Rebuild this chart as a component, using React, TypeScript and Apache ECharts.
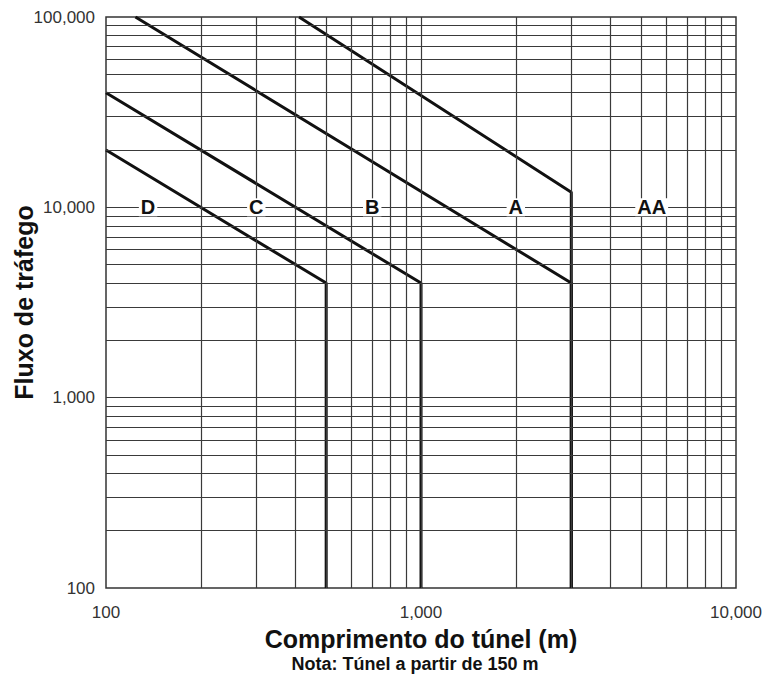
import React, { useEffect, useRef } from "react";
import * as echarts from "echarts";

// Curves (x: tunnel length in m, y: traffic flow)
const curveD: [number, number][] = [[100, 20000], [500, 4000], [500, 100]];
const curveC: [number, number][] = [[100, 40000], [1000, 4000], [1000, 100]];
const curveB: [number, number][] = [[124, 100000], [3000, 4000], [3000, 100]];
const curveA: [number, number][] = [[410, 100000], [3000, 12000], [3000, 100]];

// Zone labels
const zoneNames = ["D", "C", "B", "A", "AA"];
const zoneX = [136, 300, 700, 2000, 5400];
const zoneY = 10000;

// Grid lines of the log paper
const xGridValues = [200, 300, 400, 500, 600, 700, 800, 900, 1000, 2000, 3000, 4000, 5000, 6000, 7000, 8000, 9000];
const yGridValues = [
  200, 300, 400, 500, 600, 700, 800, 900, 1000,
  2000, 3000, 4000, 5000, 6000, 7000, 8000, 9000, 10000,
  20000, 30000, 40000, 50000, 60000, 70000, 80000, 90000,
];

const xTitle = "Comprimento do túnel (m)";
const yTitle = "Fluxo de tráfego";
const note = "Nota: Túnel a partir de 150 m";

const FONT = "'Liberation Sans', Arial, Helvetica, sans-serif";

const fmt = (v: number) => Math.round(v).toLocaleString("en-US");

export default function App() {
  const ref = useRef<HTMLDivElement>(null);
  useEffect(() => {
    if (!ref.current) return;
    const chart = echarts.init(ref.current, undefined, { renderer: "svg" });
    const curveStyle = { color: "#111", width: 3 };
    const mkCurve = (name: string, data: [number, number][]) => ({
      name,
      type: "line",
      data,
      symbol: "none",
      lineStyle: curveStyle,
      itemStyle: { color: "#111" },
      z: 3,
      silent: true,
    });
    chart.setOption({
      animation: false,
      backgroundColor: "#fff",
      grid: {
        left: 106,
        right: 29,
        top: 17,
        bottom: 87,
        show: true,
        borderColor: "#333",
        borderWidth: 1.5,
        backgroundColor: "transparent",
        containLabel: false,
        outerBoundsMode: "none",
      },
      xAxis: {
        type: "log",
        logBase: 10,
        min: 100,
        max: 10000,
        name: xTitle,
        nameLocation: "middle",
        nameGap: 38,
        nameMoveOverlap: false,
        nameTextStyle: { fontFamily: FONT, fontSize: 25, fontWeight: "bold", color: "#111" },
        axisLine: { show: false },
        axisTick: { show: false },
        splitLine: { show: false },
        axisLabel: {
          formatter: fmt,
          fontFamily: FONT,
          fontSize: 17,
          color: "#333",
          margin: 16,
        },
      },
      yAxis: {
        type: "log",
        logBase: 10,
        min: 100,
        max: 100000,
        name: yTitle,
        nameLocation: "middle",
        nameGap: 70,
        nameMoveOverlap: false,
        nameRotate: 90,
        nameTextStyle: { fontFamily: FONT, fontSize: 25, fontWeight: "bold", color: "#111" },
        axisLine: { show: false },
        axisTick: { show: false },
        splitLine: { show: false },
        axisLabel: {
          formatter: fmt,
          fontFamily: FONT,
          fontSize: 17,
          color: "#333",
          margin: 11,
        },
      },
      graphic: [
        {
          type: "text",
          x: 415,
          y: 664,
          style: {
            text: note,
            font: `bold 18px ${FONT}`,
            fill: "#111",
            align: "center",
            verticalAlign: "middle",
          },
        },
      ],
      series: [
        {
          name: "grid",
          type: "line",
          data: [],
          z: 1,
          silent: true,
          markLine: {
            silent: true,
            symbol: ["none", "none"],
            label: { show: false },
            lineStyle: { color: "#3a3a3a", width: 1.2, type: "solid" },
            emphasis: { disabled: true },
            data: [
              ...xGridValues.map((v) => ({ xAxis: v })),
              ...yGridValues.map((v) => ({ yAxis: v })),
            ],
          },
        },
        mkCurve("D", curveD),
        mkCurve("C", curveC),
        mkCurve("B", curveB),
        mkCurve("A", curveA),
        {
          name: "zones",
          type: "scatter",
          symbolSize: 0,
          z: 5,
          silent: true,
          itemStyle: { opacity: 1, color: "#111" },
          data: zoneNames.map((n, i) => ({ name: n, value: [zoneX[i], zoneY] })),
          label: {
            show: true,
            position: "inside",
            formatter: "{b}",
            fontFamily: FONT,
            fontSize: 20,
            fontWeight: "bold",
            color: "#111",
            opacity: 1,
            backgroundColor: "#fff",
            padding: [0, 2],
            lineHeight: 18,
          },
        },
      ],
    });
    return () => chart.dispose();
  }, []);
  return (
    <div
      ref={ref}
      style={{ position: "absolute", left: 0, top: 0, width: 765, height: 675, background: "#fff" }}
    />
  );
}
